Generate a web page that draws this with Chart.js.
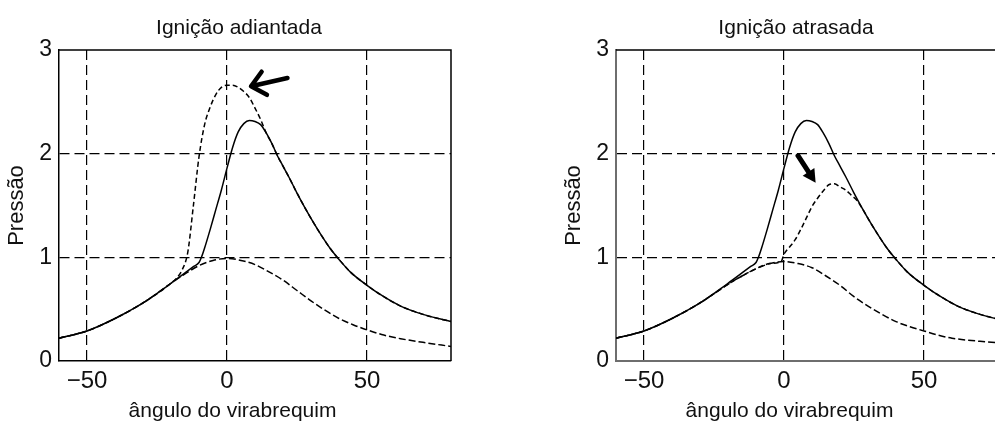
<!DOCTYPE html>
<html><head><meta charset="utf-8">
<script src="https://cdn.jsdelivr.net/npm/chart.js@4"></script>
<style>
html,body{margin:0;padding:0;width:995px;height:422px;overflow:hidden;background:#fff;}
.box{position:absolute;top:0;width:478px;height:422px;}
</style></head><body>
<div class="box" style="left:0"><canvas id="c1" width="478" height="422"></canvas></div>
<div class="box" style="left:557px"><canvas id="c2" width="478" height="422"></canvas></div>
<script>
// ---- data (crank angle in degrees, normalised pressure) ----
const xTicks = [-50, 0, 50];
const yTicks = [0, 1, 2, 3];

const anguloNormal  = [-60,-50,-40,-30,-20,-15,-12,-10,-9,-8,-6,-4,-2,0,2,4,6,8,10,12,14,16,18,20,22,25,28,31,34,37,40,44,50,56,62,70,80];
const pressaoNormal = [0.22,0.29,0.41,0.56,0.75,0.85,0.91,0.95,1.01,1.09,1.27,1.46,1.65,1.86,2.06,2.21,2.29,2.32,2.31,2.28,2.20,2.10,1.98,1.88,1.78,1.62,1.47,1.33,1.20,1.08,0.98,0.86,0.73,0.62,0.53,0.45,0.38];

const anguloMotorEsq  = [-60,-50,-40,-30,-20,-15,-10,-5,0,5,10,15,20,25,30,35,40,45,50,56,62,70,80];
const pressaoMotorEsq = [0.22,0.29,0.41,0.56,0.75,0.84,0.92,0.97,0.99,0.97,0.93,0.86,0.78,0.68,0.58,0.49,0.41,0.35,0.30,0.25,0.215,0.18,0.14];

const anguloAdiantada  = [-60,-50,-40,-30,-20,-18,-16,-14,-12,-10,-8,-6,-4,-2,0,2,4,6,8,10,12,14,16,18,20,22,25,28,31,34,37,40,44,50,56,62,70,80];
const pressaoAdiantada = [0.22,0.29,0.41,0.56,0.75,0.80,0.88,1.05,1.50,1.97,2.28,2.45,2.57,2.64,2.66,2.66,2.64,2.60,2.54,2.44,2.33,2.20,2.10,1.98,1.88,1.78,1.62,1.47,1.33,1.20,1.08,0.98,0.86,0.73,0.62,0.53,0.45,0.38];

const anguloMotorDir  = [-60,-50,-40,-30,-20,-15,-10,-5,0,5,10,15,20,25,30,35,40,45,50,55,60,70,80];
const pressaoMotorDir = [0.22,0.29,0.41,0.56,0.74,0.82,0.89,0.94,0.96,0.94,0.90,0.82,0.73,0.62,0.53,0.45,0.38,0.33,0.29,0.25,0.22,0.19,0.17];

const anguloAtrasada  = [-60,-50,-40,-30,-20,-15,-10,-5,-1,0,2,4,6,8,10,12,14,16,18,20,22,24,26,28,31,34,37,40,44,50,56,62,70,80];
const pressaoAtrasada = [0.22,0.29,0.41,0.56,0.74,0.82,0.89,0.94,0.96,1.03,1.10,1.17,1.27,1.38,1.49,1.57,1.64,1.70,1.71,1.68,1.65,1.60,1.55,1.47,1.33,1.20,1.08,0.98,0.86,0.73,0.62,0.53,0.45,0.38];

// arrows in data units [angle, pressure]
const setaAdiantada = {from: [21.6, 2.73], to: [8.6, 2.65], style: 'open'};
const setaAtrasada  = {from: [5.0, 1.98], to: [11.3, 1.72], style: 'filled'};

const FONT = '"Liberation Sans", Arial, Helvetica, sans-serif';
Chart.defaults.font.family = FONT;
Chart.defaults.color = '#111';

function pts(xs, ys) { return xs.map((a, i) => ({x: a, y: ys[i]})); }

const extras = {
  id: 'extras',
  afterDraw(chart, args, opts) {
    const {ctx, chartArea: a, scales: {x, y}} = chart;
    ctx.save();
    ctx.strokeStyle = '#000'; ctx.lineWidth = 1.5;
    ctx.beginPath(); ctx.moveTo(a.left, a.top); ctx.lineTo(a.right, a.top); ctx.lineTo(a.right, a.bottom); ctx.stroke();
    const ar = opts.arrow;
    const tx = x.getPixelForValue(ar.from[0]), ty = y.getPixelForValue(ar.from[1]);
    const hx = x.getPixelForValue(ar.to[0]), hy = y.getPixelForValue(ar.to[1]);
    const ang = Math.atan2(ty - hy, tx - hx);
    ctx.fillStyle = '#000'; ctx.strokeStyle = '#000';
    ctx.lineCap = 'round'; ctx.lineJoin = 'round';
    if (ar.style === 'open') {
      ctx.lineWidth = 4.5;
      const L = 18, w = 0.72;
      ctx.beginPath(); ctx.moveTo(tx, ty); ctx.lineTo(hx, hy);
      ctx.moveTo(hx + L * Math.cos(ang - w), hy + L * Math.sin(ang - w));
      ctx.lineTo(hx, hy);
      ctx.lineTo(hx + L * Math.cos(ang + w), hy + L * Math.sin(ang + w));
      ctx.stroke();
    } else {
      const L = 13, W = 7;
      const bx = hx + L * Math.cos(ang), by = hy + L * Math.sin(ang);
      ctx.lineWidth = 5;
      ctx.beginPath(); ctx.moveTo(tx, ty); ctx.lineTo(bx, by); ctx.stroke();
      ctx.beginPath(); ctx.moveTo(hx, hy);
      ctx.lineTo(bx + W * Math.cos(ang + Math.PI / 2), by + W * Math.sin(ang + Math.PI / 2));
      ctx.lineTo(bx - W * Math.cos(ang + Math.PI / 2), by - W * Math.sin(ang + Math.PI / 2));
      ctx.closePath(); ctx.fill();
    }
    ctx.font = '21px ' + FONT; ctx.fillStyle = '#111';
    ctx.textAlign = 'center'; ctx.textBaseline = 'alphabetic';
    ctx.fillText(opts.xLabel, a.left + 173.5, a.bottom + 56);
    ctx.restore();
  }
};

function makeChart(id, title, datasets, arrow, axisColor, axisWidth) {
  const sets = datasets.map(d => ({
    data: pts(d.x, d.y), borderColor: '#000', borderWidth: 1.5, borderDash: d.dash,
    pointRadius: 0, cubicInterpolationMode: 'monotone', fill: false
  }));
  return new Chart(document.getElementById(id), {
    type: 'line',
    data: {datasets: sets},
    options: {
      responsive: false, animation: false, devicePixelRatio: 1,
      layout: {padding: 0},
      plugins: {
        legend: {display: false}, tooltip: {enabled: false},
        title: {display: true, text: title, color: '#111',
          font: {family: FONT, size: 21, weight: 'normal', lineHeight: 1.2},
          padding: {top: 15.5, bottom: 9.3}},
        extras: {arrow: arrow, xLabel: 'ângulo do virabrequim'}
      },
      scales: {
        x: {
          type: 'linear', min: -60, max: 80,
          afterBuildTicks: s => { s.ticks = xTicks.map(v => ({value: v})); },
          afterFit: s => { s.height = 61; },
          ticks: {font: {size: 24}, color: '#111', padding: 6, maxRotation: 0, autoSkip: false,
            callback: v => (v < 0 ? '\u2212' + Math.abs(v) : String(v))},
          grid: {color: '#000', lineWidth: 1.2, drawTicks: false},
          border: {display: true, color: axisColor, width: axisWidth, dash: [10, 5]}
        },
        y: {
          type: 'linear', min: 0, max: 3,
          afterBuildTicks: s => { s.ticks = yTicks.map(v => ({value: v})); },
          afterFit: s => { s.width = 59; },
          ticks: {font: {size: 23}, color: '#111', padding: 7},
          grid: {color: c => (c.tick && (c.tick.value === 0 || c.tick.value === 3)) ? 'rgba(0,0,0,0)' : '#000',
            lineWidth: 1.2, drawTicks: false},
          border: {display: true, color: axisColor, width: axisWidth, dash: [10, 5]},
          title: {display: true, text: 'Pressão', color: '#111', font: {size: 22, lineHeight: 1.2},
            padding: {top: 4, bottom: 0}}
        },
        yRight: {
          type: 'linear', position: 'right', min: 0, max: 3,
          afterFit: s => { s.width = 27; },
          ticks: {display: false},
          grid: {display: false, drawTicks: false},
          border: {display: false}
        }
      }
    },
    plugins: [extras]
  });
}

makeChart('c1', 'Ignição adiantada', [
  {x: anguloNormal, y: pressaoNormal, dash: []},
  {x: anguloMotorEsq, y: pressaoMotorEsq, dash: [7, 3]},
  {x: anguloAdiantada, y: pressaoAdiantada, dash: [5, 3]}
], setaAdiantada, '#000', 1.5);

makeChart('c2', 'Ignição atrasada', [
  {x: anguloNormal, y: pressaoNormal, dash: []},
  {x: anguloMotorDir, y: pressaoMotorDir, dash: [7, 3]},
  {x: anguloAtrasada, y: pressaoAtrasada, dash: [5, 3]}
], setaAtrasada, '#6e6e6e', 2);
</script>
</body></html>
